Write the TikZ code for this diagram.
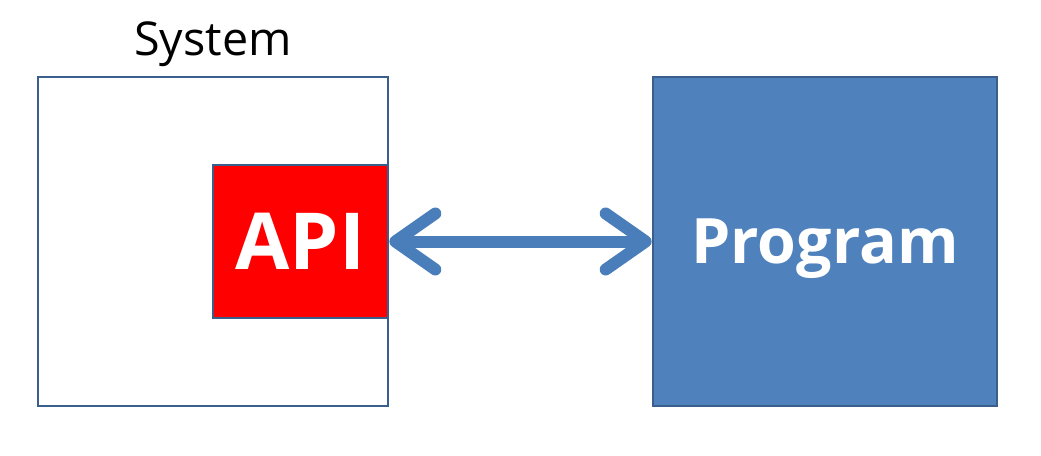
\documentclass[tikz,border=0pt]{standalone}
\usepackage{fontspec}
\setmainfont{Open Sans}
\usetikzlibrary{positioning,arrows.meta}
\definecolor{boxline}{HTML}{3A5F8D}
\definecolor{progfill}{HTML}{4F81BD}
\definecolor{arrowblue}{HTML}{4A7EBB}
\begin{document}
\begin{tikzpicture}[x=0.75pt,y=-0.75pt]
        \tikzstyle{block}=[draw=boxline,line width=2pt,inner sep=0pt]
        \tikzstyle{link}=[draw=arrowblue,line width=9pt,{Straight Barb[length=30pt,width=42pt,round]}-{Straight Barb[length=30pt,width=42pt,round]}]
        \useasboundingbox (0,0) rectangle (1041,455);
        \node [block,fill=white,minimum width=262.5pt,minimum height=246.75pt] (system) at (213,241.5) {};
        \node [block,fill=red,minimum width=131.25pt,minimum height=114.75pt,text=white,font=\fontsize{59}{59}\selectfont\bfseries] (api) at (300.5,241.5) {API};
        \node [block,fill=progfill,minimum width=258pt,minimum height=246.75pt,text=white,text depth=0pt,font=\fontsize{47}{47}\selectfont\bfseries] (program) at (825,241.5) {Program};
        \node [above=3pt of system,font=\fontsize{35}{35}\selectfont] (systitle) {System};
        \path[link] (api.east) -- (program.west);
\end{tikzpicture}
\end{document}
